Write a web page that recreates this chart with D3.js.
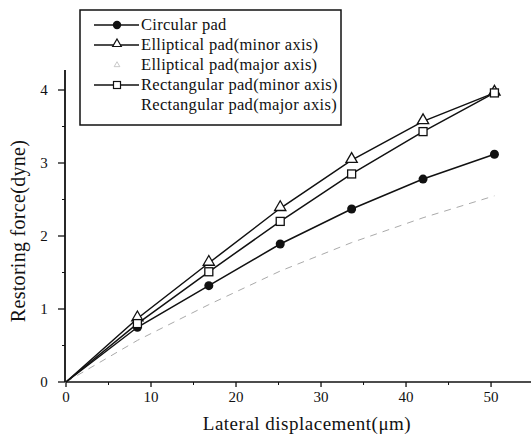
<!DOCTYPE html>
<html>
<head>
<meta charset="utf-8">
<script src="https://cdn.jsdelivr.net/npm/d3@7"></script>
<style>
  body { margin: 0; background: #fff; }
  text { font-family: "Liberation Serif", "DejaVu Serif", serif; fill: #111; }
</style>
</head>
<body>
<svg id="chart" width="531" height="439"></svg>
<script>
// displacement (um) where the points were measured
const displacement = [0, 8.4, 16.8, 25.2, 33.6, 42, 50.4];
const circular = [0, 0.75, 1.32, 1.89, 2.37, 2.78, 3.12];
const ellipMinor = [0, 0.87, 1.63, 2.38, 3.04, 3.57, 3.96];
const ellipMajor = [0, 0.57, 1.06, 1.52, 1.91, 2.25, 2.55];
const rectMinor = [0, 0.80, 1.51, 2.20, 2.85, 3.43, 3.96];

const xTicks = [0, 10, 20, 30, 40, 50];
const xMinor = [5, 15, 25, 35, 45];
const yTicks = [0, 1, 2, 3, 4];
const yMinor = [0.5, 1.5, 2.5, 3.5];

const legendLabels = [
  'Circular pad',
  'Elliptical pad(minor axis)',
  'Elliptical pad(major axis)',
  'Rectangular pad(minor axis)',
  'Rectangular pad(major axis)'
];

const svg = d3.select('#chart');

const x = d3.scaleLinear().domain([0, 54.7]).range([66, 531]);
const y = d3.scaleLinear().domain([0, 4]).range([382, 90]);
const yTop = 70;

// axes
const xAxis = svg.append('g').attr('transform', `translate(0,${y(0)})`);
xAxis.append('line')
  .attr('x1', x(0)).attr('x2', x.range()[1])
  .attr('stroke', '#111').attr('stroke-width', 1.6);
xAxis.selectAll('.maj').data(xTicks).join('line')
  .attr('x1', d => x(d)).attr('x2', d => x(d))
  .attr('y1', 0).attr('y2', 5)
  .attr('stroke', '#111').attr('stroke-width', 1.3);
xAxis.selectAll('.min').data(xMinor).join('line')
  .attr('x1', d => x(d)).attr('x2', d => x(d))
  .attr('y1', 0).attr('y2', 3)
  .attr('stroke', '#111').attr('stroke-width', 1);
xAxis.selectAll('text').data(xTicks).join('text')
  .attr('x', d => x(d)).attr('y', 20)
  .attr('text-anchor', 'middle')
  .style('font-size', '15px')
  .text(d => d);

const yAxis = svg.append('g').attr('transform', `translate(${x(0) - 1},0)`);
yAxis.append('line')
  .attr('y1', y(0)).attr('y2', yTop)
  .attr('stroke', '#111').attr('stroke-width', 1.8);
yAxis.selectAll('.maj').data(yTicks).join('line')
  .attr('y1', d => y(d)).attr('y2', d => y(d))
  .attr('x1', -7).attr('x2', 0)
  .attr('stroke', '#111').attr('stroke-width', 1.3);
yAxis.selectAll('.min').data(yMinor).join('line')
  .attr('y1', d => y(d)).attr('y2', d => y(d))
  .attr('x1', -3).attr('x2', 0)
  .attr('stroke', '#111').attr('stroke-width', 1);
yAxis.selectAll('text').data(yTicks).join('text')
  .attr('x', -21).attr('y', d => y(d) + 5)
  .attr('text-anchor', 'middle')
  .style('font-size', '15px')
  .text(d => d);

// axis titles
svg.append('text')
  .attr('x', 307).attr('y', 430)
  .attr('text-anchor', 'middle')
  .style('font-size', '19px')
  .style('letter-spacing', '0.5px')
  .text('Lateral displacement(\u03bcm)');

svg.append('text')
  .attr('transform', 'translate(25,231) rotate(-90)')
  .attr('text-anchor', 'middle')
  .style('font-size', '20px')
  .style('letter-spacing', '0.3px')
  .text('Restoring force(dyne)');

// series
const line = d3.line().x(d => x(d[0])).y(d => y(d[1]));
const pts = vals => displacement.map((d, i) => [d, vals[i]]);

svg.append('path')
  .attr('d', line(pts(ellipMajor)))
  .attr('fill', 'none').attr('stroke', '#aaa')
  .attr('stroke-width', 1).attr('stroke-dasharray', '7,6');

[circular, ellipMinor, rectMinor].forEach(vals => {
  svg.append('path')
    .attr('d', line(pts(vals)))
    .attr('fill', 'none').attr('stroke', '#111')
    .attr('stroke-width', 1.5);
});

const dataPts = vals => pts(vals).slice(1);

svg.selectAll('.circ').data(dataPts(circular)).join('circle')
  .attr('cx', d => x(d[0])).attr('cy', d => y(d[1])).attr('r', 4.5)
  .attr('fill', '#111');

const tri = d3.symbol().type(d3.symbolTriangle).size(55);
svg.selectAll('.tri').data(dataPts(ellipMinor)).join('path')
  .attr('transform', d => `translate(${x(d[0])},${y(d[1]) - 1})`)
  .attr('d', tri())
  .attr('fill', '#fff').attr('stroke', '#111').attr('stroke-width', 1.3);

svg.selectAll('.sq').data(dataPts(rectMinor)).join('rect')
  .attr('x', d => x(d[0]) - 4).attr('y', d => y(d[1]) - 4)
  .attr('width', 8).attr('height', 8)
  .attr('fill', '#fff').attr('stroke', '#111').attr('stroke-width', 1.3);

// legend
const lg = svg.append('g');
lg.append('rect')
  .attr('x', 80).attr('y', 10).attr('width', 261).attr('height', 115)
  .attr('fill', '#fff').attr('stroke', '#111').attr('stroke-width', 1.5);

const rowY = i => 25 + i * 20;
legendLabels.forEach((label, i) => {
  lg.append('text')
    .attr('x', 141).attr('y', rowY(i) + 5)
    .style('font-size', '16.5px')
    .style('letter-spacing', '0.3px')
    .text(label);
});

[0, 1, 3].forEach(i => {
  lg.append('line')
    .attr('x1', 94).attr('x2', 139)
    .attr('y1', rowY(i)).attr('y2', rowY(i))
    .attr('stroke', '#111').attr('stroke-width', 1.5);
});
lg.append('circle').attr('cx', 117).attr('cy', rowY(0)).attr('r', 4.2).attr('fill', '#111');
lg.append('path')
  .attr('transform', `translate(117,${rowY(1) - 1})`)
  .attr('d', d3.symbol().type(d3.symbolTriangle).size(32)())
  .attr('fill', '#fff').attr('stroke', '#111').attr('stroke-width', 1.2);
lg.append('path')
  .attr('transform', `translate(117,${rowY(2)})`)
  .attr('d', d3.symbol().type(d3.symbolTriangle).size(14)())
  .attr('fill', 'none').attr('stroke', '#bbb').attr('stroke-width', 0.8);
lg.append('rect')
  .attr('x', 113.5).attr('y', rowY(3) - 3.5).attr('width', 7).attr('height', 7)
  .attr('fill', '#fff').attr('stroke', '#111').attr('stroke-width', 1.2);
</script>
</body>
</html>
